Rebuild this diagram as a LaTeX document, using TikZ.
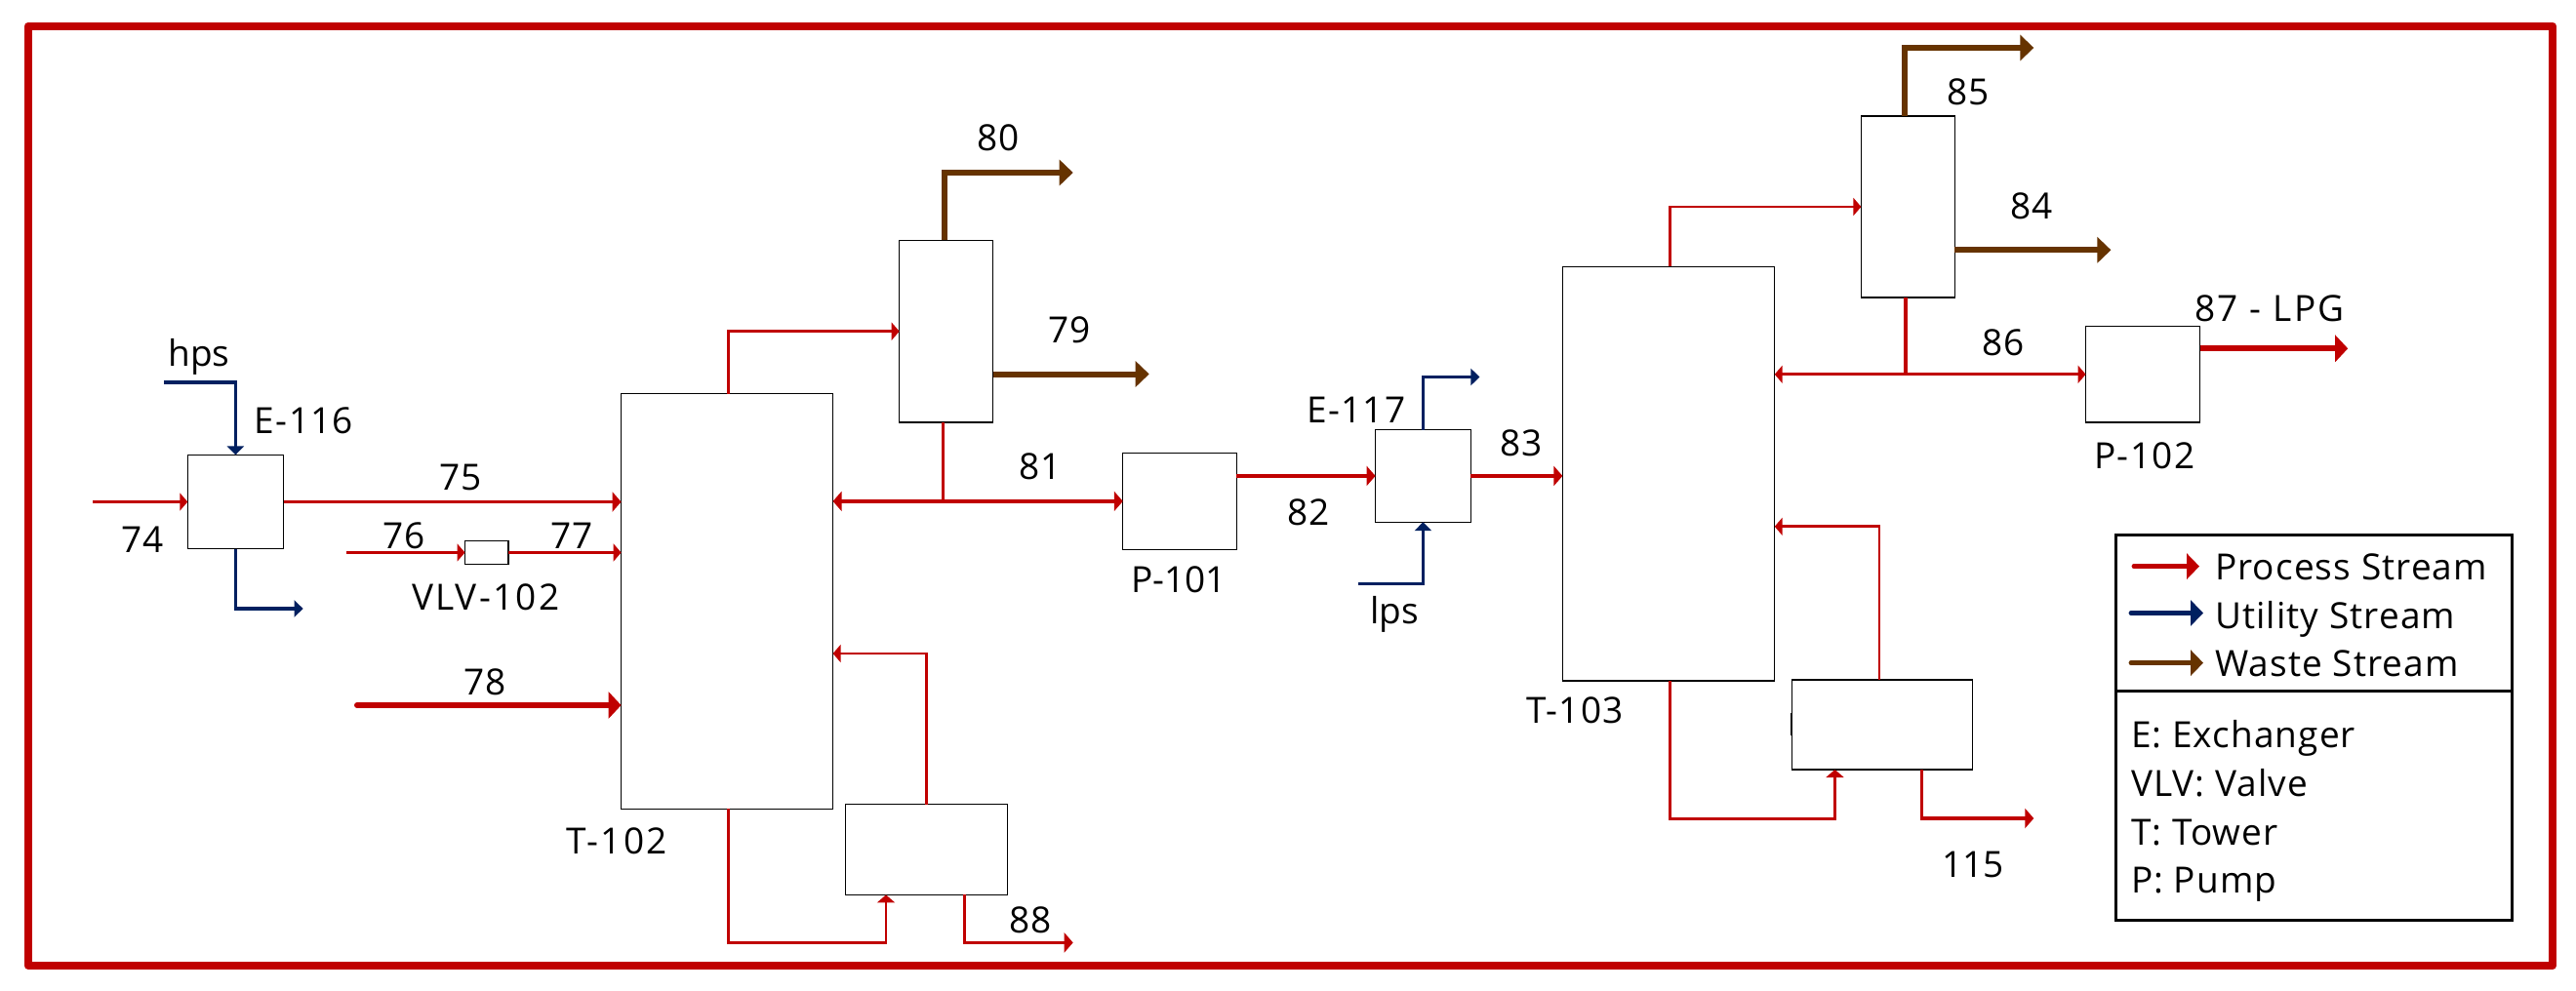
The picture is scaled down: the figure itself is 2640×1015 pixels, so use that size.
\documentclass[tikz,border=0pt]{standalone}
\usepackage{fontspec}
\setmainfont{Open Sans}
\usetikzlibrary{arrows.meta,calc}
\definecolor{procred}{HTML}{C00000}
\definecolor{utilblue}{HTML}{002060}
\definecolor{wastebrown}{HTML}{663300}
\tikzset{
  box/.style={draw=black,fill=white,line width=1.1pt,inner sep=0pt,outer sep=0pt},
  lbl/.style={inner sep=0pt,outer sep=0pt,anchor=base,font=\fontsize{37}{37}\selectfont,text=black},
  lblw/.style={lbl,execute at begin node={\addfontfeature{LetterSpace=#1}}},
  lgd/.style={lblw=3,anchor=base west},
  thinp/.style={draw=procred,line width=2.8pt,-{Triangle[length=8pt,width=18pt]}},
  midp/.style={draw=procred,line width=3.6pt,-{Triangle[length=9pt,width=20pt]}},
  thickp/.style={draw=procred,line width=6pt,line cap=round,-{Triangle[length=13pt,width=27pt]}},
  util/.style={draw=utilblue,line width=3.2pt,-{Triangle[length=9pt,width=17pt]}},
  waste/.style={draw=wastebrown,line width=6pt,-{Triangle[length=14pt,width=26pt]}},
  lgdline/.style={line width=4.5pt,-{Triangle[length=13pt,width=26pt]}}
}
\begin{document}
\begin{tikzpicture}[x=1pt,y=-1pt]
\useasboundingbox (0,0) rectangle (2640,1015);
\fill[white] (0,0) rectangle (2640,1015);
\draw[procred,line width=8pt,line join=round] (28.7,26.5) rectangle (2616,990);

% equipment
\node[box,minimum width=98.2pt,minimum height=96.2pt] (e116) at (241.4,514.5) {};
\node[box,minimum width=44.5pt,minimum height=24.2pt] (vlv) at (498.75,566.5) {};
\node[box,minimum width=217pt,minimum height=425.9pt] (t102) at (745.1,616.45) {};
\node[box,minimum width=95.9pt,minimum height=186.6pt] (c1) at (969.65,339.7) {};
\node[box,minimum width=165.9pt,minimum height=92.8pt] (r1) at (949.55,871) {};
\node[box,minimum width=116.5pt,minimum height=98.6pt] (p101) at (1209.05,513.9) {};
\node[box,minimum width=97.6pt,minimum height=94.5pt] (e117) at (1458.4,487.95) {};
\node[box,minimum width=217.3pt,minimum height=424.7pt] (t103) at (1710.05,485.65) {};
\node[box,minimum width=96pt,minimum height=186pt] (c2) at (1955.4,212) {};
\node[box,minimum width=184.6pt,minimum height=92pt] (r2) at (1929,743) {};
\node[box,minimum width=117pt,minimum height=98.4pt] (p102) at (2196.1,383.8) {};
\node[draw=black,line width=2.6pt,inner sep=0pt,minimum width=406.5pt,minimum height=160.5pt] (lgdtop) at (2371.45,628.45) {};
\node[draw=black,line width=2.6pt,inner sep=0pt,minimum width=406.5pt,minimum height=235pt] (lgdbot) at (2371.45,826.2) {};

% free ends
\coordinate (c74) at (95,514.5);
\coordinate (chps) at (168,392);
\coordinate (cout) at (310.6,624);
\coordinate (c76) at (355,566.5);
\coordinate (c78) at (366,723);
\coordinate (c80) at (1099.7,177);
\coordinate (c79) at (1177.7,383.5);
\coordinate (j81) at (966.5,513.9);
\coordinate (c117) at (1516.4,386.5);
\coordinate (clps) at (1392.4,598.8);
\coordinate (crec1) at (853.6,670);
\coordinate (r1in) at (908,966.4);
\coordinate (c88a) at (988.3,917.4);
\coordinate (c88) at (1099.7,966.4);
\coordinate (c85) at (2084.3,49);
\coordinate (c84) at (2163.4,256.3);
\coordinate (j86) at (1953,383.8);
\coordinate (c87) at (2406.2,357.3);
\coordinate (crec2) at (1818.7,539.8);
\coordinate (r2in) at (1880.5,839.5);
\coordinate (c115a) at (1969.8,789);
\coordinate (c115) at (2084.3,839);
\coordinate (lp1) at (2186.8,580.6);
\coordinate (lp2) at (2254,580.6);
\coordinate (lu1) at (2183.8,628.5);
\coordinate (lu2) at (2258,628.5);
\coordinate (lw1) at (2183.8,679.6);
\coordinate (lw2) at (2258,679.6);

% connectors
\draw[thinp] (c74) -- (e116.west);
\draw[midp,line width=3pt] (e116.east) -- (e116.east -| t102.west);
\draw[util] (chps) -| (e116.north);
\draw[util] (e116.south) |- (cout);
\draw[thinp] (c76) -- (vlv.west);
\draw[thinp] (vlv.east) -- (vlv.east -| t102.west);
\draw[thickp] (c78) -- (c78 -| t102.west);
\draw[thinp] ([xshift=1pt]t102.north) |- (c1.west);
\draw[waste] ([xshift=-2pt]c1.north) |- (c80);
\draw[waste] (c79 -| c1.east) -- (c79);
\draw[midp,{Triangle[length=9pt,width=20pt]}-{Triangle[length=9pt,width=20pt]}] (p101.west -| t102.east) -- (p101.west);
\draw[draw=procred,line width=3.6pt] ([xshift=-3.15pt]c1.south) -- (j81);
\draw[midp] (e117.west -| p101.east) -- (e117.west);
\draw[midp] (e117.east) -- (e117.east -| t103.west);
\draw[util] (e117.north) |- (c117);
\draw[util] (clps) -| (e117.south);
\draw[thinp] (r1.north) |- (crec1);
\draw[thinp] ([xshift=1pt]t102.south) |- (r1in) -- (r1in |- r1.south);
\draw[midp,line width=3.2pt] (c88a) |- (c88);
\draw[thinp] ([xshift=1.3pt]t103.north) |- (c2.west);
\draw[waste] ([xshift=-3pt]c2.north) |- (c85);
\draw[waste] (c84 -| c2.east) -- (c84);
\draw[midp,line width=3.2pt,{Triangle[length=8pt,width=18pt]}-{Triangle[length=8pt,width=18pt]}] (p102.west -| t103.east) -- (p102.west);
\draw[draw=procred,line width=3.2pt] ([xshift=-2.4pt]c2.south) -- (j86);
\draw[thickp,line cap=butt] (c87 -| p102.east) -- (c87);
\draw[thinp] ([xshift=-3pt]r2.north) |- (crec2);
\draw[thinp,line width=2.4pt] ([xshift=1.4pt]t103.south) |- (r2in) -- (r2in |- r2.south);
\draw[midp,line width=3.2pt] (c115a) |- (c115);
\draw[black,line width=2pt] (1835.5,731) -- (1835.5,754);

% legend arrows
\draw[lgdline,draw=procred,line cap=round] (lp1) -- (lp2);
\draw[lgdline,draw=utilblue,line cap=round] (lu1) -- (lu2);
\draw[lgdline,draw=wastebrown,line cap=round] (lw1) -- (lw2);

% labels
\node[lbl] (thps) at (204,375) {hps};
\node[lblw=3.5] (te116) at (311.5,444.5) {E-116};
\node[lbl] (t75) at (472,502.5) {75};
\node[lbl] (t74) at (146,566.8) {74};
\node[lbl] (t76) at (414,562) {76};
\node[lbl] (t77) at (586,562) {77};
\node[lblw=6] (tvlv) at (497.6,625.6) {VLV-102};
\node[lbl] (t78) at (497,712.7) {78};
\node[lblw=6] (tt102) at (632,875.5) {T-102};
\node[lbl] (t80) at (1023,154.8) {80};
\node[lbl] (t79) at (1096,351.5) {79};
\node[lbl] (t81) at (1066,491) {81};
\node[lbl] (tp101) at (1208,607.6) {P-101};
\node[lbl] (t82) at (1341,538) {82};
\node[lblw=3.5] (te117) at (1390,433) {E-117};
\node[lbl] (t83) at (1559,467.6) {83};
\node[lbl] (tlps) at (1429,639.7) {lps};
\node[lbl] (t88) at (1056,956) {88};
\node[lblw=3.5] (tt103) at (1614,741) {T-103};
\node[lbl] (t85) at (2017,107.4) {85};
\node[lbl] (t84) at (2082,224) {84};
\node[lbl] (t86) at (2053,364.4) {86};
\node[lblw=6] (t87) at (2326,329.4) {87 - LPG};
\node[lblw=4] (tp102) at (2198,480) {P-102};
\node[lbl] (t115) at (2022,899) {115};
\node[lgd] (lg1) at (2270,594.8) {Process Stream};
\node[lgd] (lg2) at (2270,644.7) {Utility Stream};
\node[lgd] (lg3) at (2270.1,693.9) {Waste Stream};
\node[lgd] (lg4) at (2184,766) {E: Exchanger};
\node[lgd] (lg5) at (2184,816) {VLV: Valve};
\node[lgd] (lg6) at (2184,866.7) {T: Tower};
\node[lgd] (lg7) at (2184,915) {P: Pump};
\end{tikzpicture}
\end{document}
